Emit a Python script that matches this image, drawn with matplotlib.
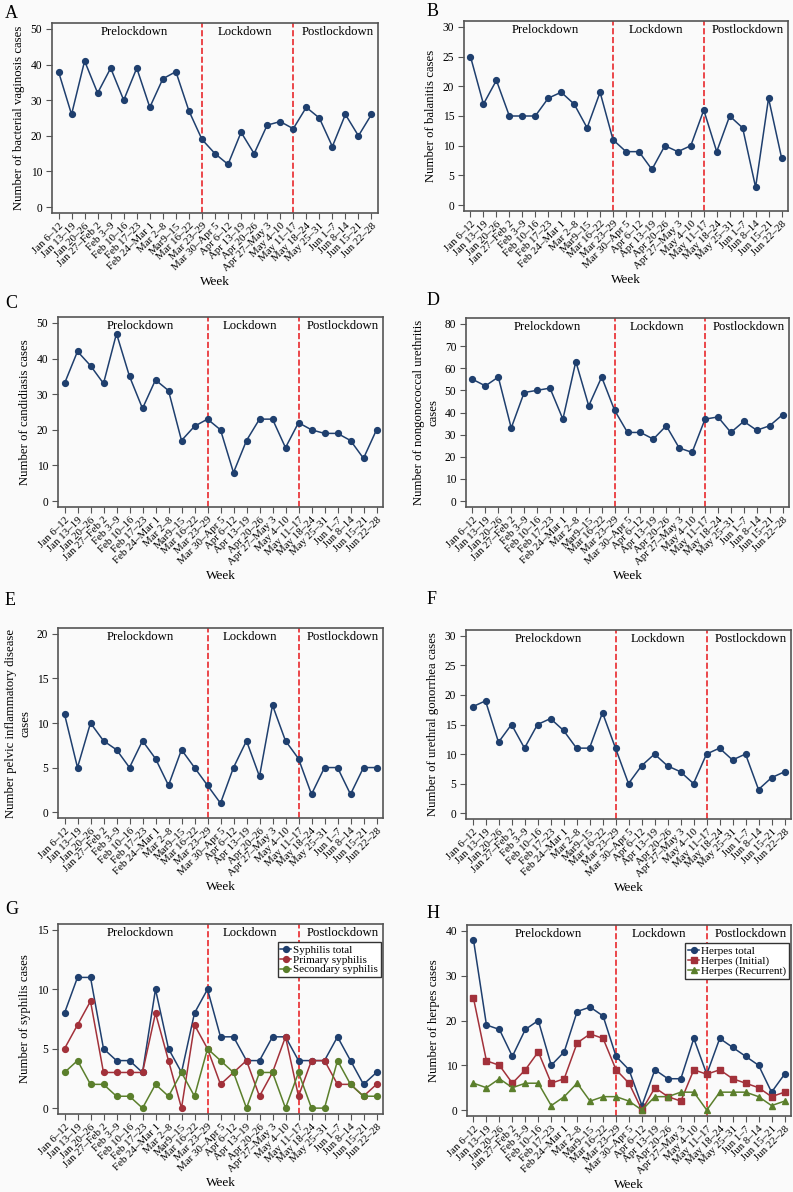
import numpy as np
import matplotlib
matplotlib.use("Agg")
import matplotlib.pyplot as plt

plt.rcParams['font.family'] = ['Liberation Serif', 'DejaVu Serif']

weeks = ["Jan 6–12", "Jan 13–19", "Jan 20–26", "Jan 27–Feb 2", "Feb 3–9",
         "Feb 10–16", "Feb 17–23", "Feb 24–Mar 1", "Mar 2–8", "Mar9–15",
         "Mar 16–22", "Mar 23–29", "Mar 30–Apr 5", "Apr 6–12", "Apr 13–19",
         "Apr 20–26", "Apr 27–May 3", "May 4–10", "May 11–17", "May 18–24",
         "May 25–31", "Jun 1–7", "Jun 8–14", "Jun 15–21", "Jun 22–28"]

bv = [38, 26, 41, 32, 39, 30, 39, 28, 36, 38, 27, 19, 15, 12, 21, 15, 23, 24, 22, 28, 25, 17, 26, 20, 26]
balanitis = [25, 17, 21, 15, 15, 15, 18, 19, 17, 13, 19, 11, 9, 9, 6, 10, 9, 10, 16, 9, 15, 13, 3, 18, 8]
candida = [33, 42, 38, 33, 47, 35, 26, 34, 31, 17, 21, 23, 20, 8, 17, 23, 23, 15, 22, 20, 19, 19, 17, 12, 20]
ngu = [55, 52, 56, 33, 49, 50, 51, 37, 63, 43, 56, 41, 31, 31, 28, 34, 24, 22, 37, 38, 31, 36, 32, 34, 39]
pid = [11, 5, 10, 8, 7, 5, 8, 6, 3, 7, 5, 3, 1, 5, 8, 4, 12, 8, 6, 2, 5, 5, 2, 5, 5]
gono = [18, 19, 12, 15, 11, 15, 16, 14, 11, 11, 17, 11, 5, 8, 10, 8, 7, 5, 10, 11, 9, 10, 4, 6, 7]
syph_total = [8, 11, 11, 5, 4, 4, 3, 10, 5, 3, 8, 10, 6, 6, 4, 4, 6, 6, 4, 4, 4, 6, 4, 2, 3]
syph_primary = [5, 7, 9, 3, 3, 3, 3, 8, 4, 0, 7, 5, 2, 3, 4, 1, 3, 6, 1, 4, 4, 2, 2, 1, 2]
syph_secondary = [3, 4, 2, 2, 1, 1, 0, 2, 1, 3, 1, 5, 4, 3, 0, 3, 3, 0, 3, 0, 0, 4, 2, 1, 1]
herpes_total = [38, 19, 18, 12, 18, 20, 10, 13, 22, 23, 21, 12, 9, 1, 9, 7, 7, 16, 8, 16, 14, 12, 10, 4, 8]
herpes_initial = [25, 11, 10, 6, 9, 13, 6, 7, 15, 17, 16, 9, 6, 0, 5, 3, 2, 9, 8, 9, 7, 6, 5, 3, 4]
herpes_recurrent = [6, 5, 7, 5, 6, 6, 1, 3, 6, 2, 3, 3, 2, 0, 3, 3, 4, 4, 0, 4, 4, 4, 3, 1, 2]

cut1 = 11  # Mar 23-29
cut2 = 18  # May 11-17

BLUE = '#1f3f6e'
RED = '#a2313a'
GREEN = '#5b7f2c'
VLINE = '#e8282c'
BG = '#fafafa'
SPINE = '#555555'

W, H = 793, 1192
fig = plt.figure(figsize=(W / 100, H / 100), dpi=100)
fig.patch.set_facecolor(BG)


def make_ax(l, t, r, b):
    return fig.add_axes([l / W, 1 - b / H, (r - l) / W, (b - t) / H])


def style(ax, ymax, step, ylabel):
    x = np.arange(len(weeks))
    ax.set_facecolor(BG)
    ax.set_xlim(-0.5, len(weeks) - 0.5)
    ax.set_ylim(-ymax * 0.033, ymax * 1.033)
    ax.set_yticks(np.arange(0, ymax + 1, step))
    ax.set_xticks(x)
    ax.set_xticklabels(weeks, rotation=45, ha='right', rotation_mode='anchor', fontsize=7.8)
    ax.tick_params(axis='y', labelsize=8.3, length=4, color=SPINE, pad=3)
    ax.tick_params(axis='x', length=4, color=SPINE, pad=2)
    for s in ax.spines.values():
        s.set_color(SPINE)
        s.set_linewidth(1.2)
    ax.axvline(cut1, color=VLINE, ls='--', lw=1.2, zorder=1)
    ax.axvline(cut2, color=VLINE, ls='--', lw=1.2, zorder=1)
    ax.text(5.8, 0.953, 'Prelockdown', transform=ax.get_xaxis_transform(),
            ha='center', va='center', fontsize=9.2)
    ax.text(14.3, 0.953, 'Lockdown', transform=ax.get_xaxis_transform(),
            ha='center', va='center', fontsize=9.2)
    ax.text(21.4, 0.953, 'Postlockdown', transform=ax.get_xaxis_transform(),
            ha='center', va='center', fontsize=9.2)
    ax.set_ylabel(ylabel, fontsize=9.2, ha='center', multialignment='center', labelpad=4)
    ax.set_xlabel('Week', fontsize=9.5, labelpad=2)


def line(ax, vals, color=BLUE, marker='o', label=None):
    ax.plot(np.arange(len(vals)), vals, color=color, marker=marker, ms=4.2,
            lw=1.1, label=label, zorder=3)


axA = make_ax(52, 23, 378, 213)
line(axA, bv)
style(axA, 50, 10, 'Number of bacterial vaginosis cases')

axB = make_ax(464, 21, 788, 211)
line(axB, balanitis)
style(axB, 30, 5, 'Number of balanitis cases')

axC = make_ax(58, 317, 383, 507)
line(axC, candida)
style(axC, 50, 10, 'Number of candidiasis cases')

axD = make_ax(466, 318, 789, 507)
line(axD, ngu)
style(axD, 80, 10, 'Number of nongonococcal urethritis\ncases')

axE = make_ax(58, 628, 383, 818)
line(axE, pid)
style(axE, 20, 5, 'Number pelvic inflammatory disease\ncases')

axF = make_ax(466, 630, 791, 819)
line(axF, gono)
style(axF, 30, 5, 'Number of urethral gonorrhea cases')

axG = make_ax(58, 924, 383, 1114)
line(axG, syph_total, BLUE, 'o', 'Syphilis total')
line(axG, syph_primary, RED, 'o', 'Primary syphilis')
line(axG, syph_secondary, GREEN, 'o', 'Secondary syphilis')
style(axG, 15, 5, 'Number of syphilis cases')

axH = make_ax(467, 925, 791, 1116)
line(axH, herpes_total, BLUE, 'o', 'Herpes total')
line(axH, herpes_initial, RED, 's', 'Herpes (Initial)')
line(axH, herpes_recurrent, GREEN, '^', 'Herpes (Recurrent)')
style(axH, 40, 10, 'Number of herpes cases')

for ax in (axG, axH):
    leg = ax.legend(loc='upper right', bbox_to_anchor=(1.0, 0.915), fontsize=8,
                    handlelength=1.0, handletextpad=0.15, labelspacing=0.0,
                    borderpad=0.25, borderaxespad=0.2, fancybox=False, framealpha=1)
    leg.get_frame().set_edgecolor('#333333')
    leg.get_frame().set_linewidth(1.0)
    leg.get_frame().set_facecolor('white')

letters = [('A', 5, 13), ('B', 427, 11), ('C', 5, 303), ('D', 427, 301),
           ('E', 5, 600), ('F', 427, 599), ('G', 5, 909), ('H', 427, 913)]
for s, x, y in letters:
    fig.text(x / W, 1 - y / H, s, fontsize=13, ha='left', va='center')

fig.savefig('out.png', dpi=100, facecolor=BG)
